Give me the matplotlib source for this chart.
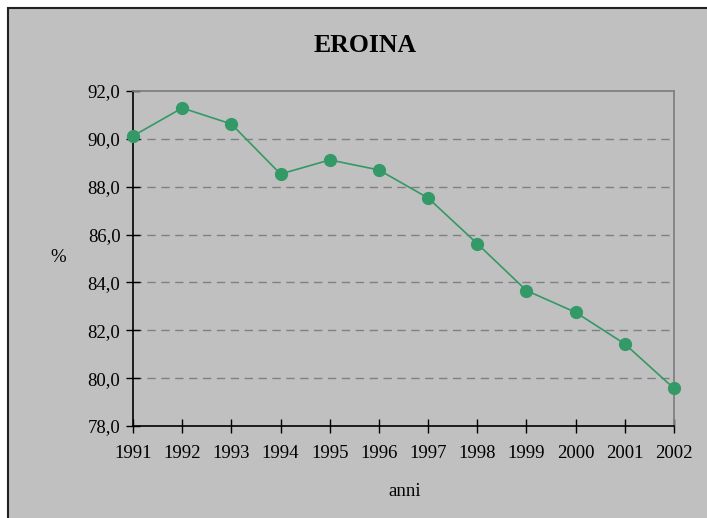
import matplotlib.pyplot as plt
from matplotlib.patches import Rectangle
from matplotlib.ticker import FuncFormatter

# data
anni = [1991, 1992, 1993, 1994, 1995, 1996, 1997, 1998, 1999, 2000, 2001, 2002]
eroina = [90.12, 91.29, 90.62, 88.53, 89.12, 88.70, 87.53, 85.62, 83.66, 82.75, 81.43, 79.57]
y_ticks = [78, 80, 82, 84, 86, 88, 90, 92]

GRAY = '#C0C0C0'
GREEN = '#339966'

plt.rcParams['font.family'] = ['Liberation Serif', 'DejaVu Serif']

W, H = 707, 518
fig = plt.figure(figsize=(W / 100, H / 100), dpi=100)
fig.patch.set_facecolor('white')

# gray chart area with black border (runs off the right/bottom edge)
fig.patches.append(Rectangle((8 / W, -0.1), 1.2, 1 - 8 / H + 0.1,
                             transform=fig.transFigure, facecolor=GRAY,
                             edgecolor='#222222', linewidth=1.5, zorder=-5))

left, right, top, bottom = 133, 674, 91, 426
ax = fig.add_axes([left / W, (H - bottom) / H, (right - left) / W, (bottom - top) / H])
ax.set_zorder(2)
ax.set_facecolor(GRAY)

ax.plot(range(len(anni)), eroina, color=GREEN, linewidth=1.2,
        marker='o', markersize=8.5, zorder=3, clip_on=False)

ax.set_xlim(0, len(anni) - 1)
ax.set_ylim(78, 92)
ax.set_xticks(range(len(anni)))
ax.set_xticklabels([str(a) for a in anni])
ax.set_yticks(y_ticks)
ax.yaxis.set_major_formatter(FuncFormatter(lambda v, p: f'{v:.1f}'.replace('.', ',')))

for v in y_ticks[1:-1]:
    ax.axhline(v, color='#808080', linewidth=1, linestyle=(0, (6, 4)), zorder=1)

for s in ['top', 'right']:
    ax.spines[s].set_color('#808080')
    ax.spines[s].set_linewidth(1.3)
for s in ['left', 'bottom']:
    ax.spines[s].set_color('black')
    ax.spines[s].set_linewidth(1.2)

ax.tick_params(axis='both', direction='inout', length=10, width=1, colors='black',
               labelsize=13.5)
ax.tick_params(axis='x', pad=9)
ax.tick_params(axis='y', pad=4)

fig.text(365 / W, 1 - 45 / H, 'EROINA', ha='center', va='center',
         fontsize=18.5, fontweight='bold')
fig.text(405 / W, 1 - 492 / H, 'anni', ha='center', va='center', fontsize=13.5)
fig.text(58 / W, 1 - 258 / H, '%', ha='center', va='center', fontsize=13.5)

fig.savefig('out.png', dpi=100, facecolor=fig.get_facecolor())
